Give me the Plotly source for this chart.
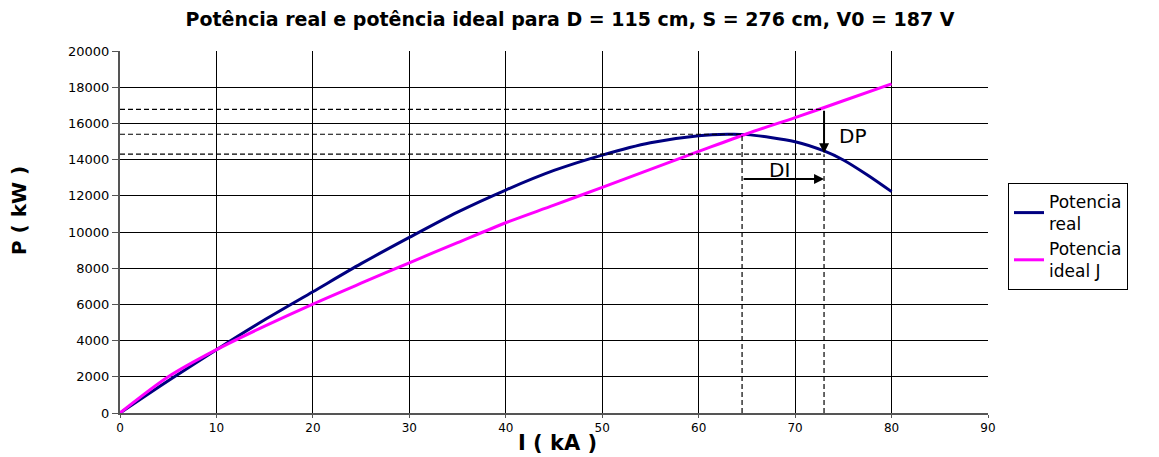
import plotly.graph_objects as go

# ---- data ----
I_real = [0, 5, 10, 15, 20, 25, 30, 35, 40, 45, 50, 55, 60, 63, 65, 70, 73, 75, 77.5, 80]
P_real = [0, 1780, 3500, 5150, 6700, 8250, 9700, 11100, 12320, 13400, 14250, 14930, 15320,
          15400, 15380, 14990, 14480, 13980, 13150, 12230]
I_ideal = [0, 5, 10, 15, 20, 25, 30, 35, 40, 45, 50, 55, 60, 65, 70, 75, 80]
P_ideal = [0, 2000, 3500, 4800, 6020, 7170, 8300, 9410, 10510, 11480, 12470, 13460, 14450,
           15430, 16320, 17250, 18180]
name_real = "Potencia<br>real"
name_ideal = "Potencia<br>ideal J"
title_text = "Potência real e potência ideal para D = 115 cm, S = 276 cm, V0 = 187 V"
x_title = "I ( kA )"
y_title = "P ( kW )"

# annotation construction values (kA / kW)
I_max = 64.5
I_op = 73
P_ideal_op = 16780
P_max = 15400
P_real_op = 14300
P_di = 12930

# page has an 8px body margin: figure coordinates = screen coordinates - 8
OFF = 8
W, H = 1159 - OFF, 457 - OFF
L, T = 120 - OFF, 51 - OFF
PLOT_RIGHT, PLOT_BOTTOM = 988 - OFF, 413 - OFF
R, B = W - PLOT_RIGHT, H - PLOT_BOTTOM
PW, PH = PLOT_RIGHT - L, PLOT_BOTTOM - T


def px(xs):
    return (xs - OFF - L) / PW


def py(ys):
    return (PLOT_BOTTOM - (ys - OFF)) / PH


fig = go.Figure()
fig.add_trace(go.Scatter(x=I_real, y=P_real, mode="lines", name=name_real,
                         line=dict(color="#000080", width=3, shape="spline", smoothing=0.8)))
fig.add_trace(go.Scatter(x=I_ideal, y=P_ideal, mode="lines", name=name_ideal,
                         line=dict(color="#FF00FF", width=3, shape="spline", smoothing=0.8)))

dash = dict(color="black", width=1.2, dash="5px,3px")
shapes = [
    dict(type="line", xref="x", yref="y", x0=0, x1=I_op, y0=P_ideal_op, y1=P_ideal_op, line=dash),
    dict(type="line", xref="x", yref="y", x0=0, x1=I_max, y0=P_max, y1=P_max, line=dash),
    dict(type="line", xref="x", yref="y", x0=0, x1=I_op, y0=P_real_op, y1=P_real_op, line=dash),
    dict(type="line", xref="x", yref="y", x0=I_max, x1=I_max, y0=0, y1=P_max, line=dash),
    dict(type="line", xref="x", yref="y", x0=I_op, x1=I_op, y0=0, y1=P_real_op, line=dash),
]

font_main = "DejaVu Sans"
annotations = [
    # DP arrow
    dict(x=I_op, y=P_real_op + 50, ax=I_op, ay=P_ideal_op, xref="x", yref="y", axref="x", ayref="y",
         text="", showarrow=True, arrowhead=2, arrowsize=1, arrowwidth=2, arrowcolor="black"),
    # DI arrow
    dict(x=I_op, y=P_di, ax=I_max, ay=P_di, xref="x", yref="y", axref="x", ayref="y",
         text="", showarrow=True, arrowhead=2, arrowsize=1, arrowwidth=2, arrowcolor="black"),
    dict(x=75.9, y=15300, xref="x", yref="y", text="DP", showarrow=False,
         font=dict(family=font_main, size=20, color="black")),
    dict(x=68.4, y=13450, xref="x", yref="y", text="DI", showarrow=False,
         font=dict(family=font_main, size=20, color="black")),
    # axis titles
    dict(x=px(557), y=py(443), xref="paper", yref="paper",
         xanchor="center", yanchor="middle", text="<b>" + x_title + "</b>", showarrow=False,
         font=dict(family=font_main, size=21, color="black")),
    dict(x=px(19), y=py(211), xref="paper", yref="paper",
         xanchor="center", yanchor="middle", textangle=-90, text="<b>" + y_title + "</b>",
         showarrow=False, font=dict(family=font_main, size=20, color="black")),
]

fig.update_layout(
    width=W, height=H,
    margin=dict(l=L, r=R, t=T, b=B, autoexpand=False),
    paper_bgcolor="white", plot_bgcolor="white",
    title=dict(text="<b>" + title_text + "</b>", x=(570 - OFF) / W, xanchor="center",
               y=1 - (19 - OFF) / H, yanchor="middle",
               font=dict(family=font_main, size=19, color="black")),
    shapes=shapes,
    annotations=annotations,
    showlegend=True,
    legend=dict(x=px(1008), y=py(183), xanchor="left", yanchor="top",
                bordercolor="black", borderwidth=1, bgcolor="white",
                font=dict(family=font_main, size=17, color="black"),
                itemwidth=30, tracegroupgap=0),
    xaxis=dict(range=[0, 90], dtick=10, tick0=0, showgrid=True, gridcolor="black", gridwidth=1,
               showline=True, linecolor="#555555", linewidth=2, ticks="outside", ticklen=3,
               tickcolor="#555555", zeroline=False, automargin=False,
               tickfont=dict(family=font_main, size=12, color="black")),
    yaxis=dict(range=[0, 20000], dtick=2000, tick0=0, tickformat="d", showgrid=True,
               gridcolor="black", gridwidth=1,
               showline=True, linecolor="#555555", linewidth=2, ticks="outside", ticklen=6,
               tickcolor="#555555", zeroline=False, automargin=False,
               tickfont=dict(family=font_main, size=13, color="black")),
)

fig.write_html("out.html")
